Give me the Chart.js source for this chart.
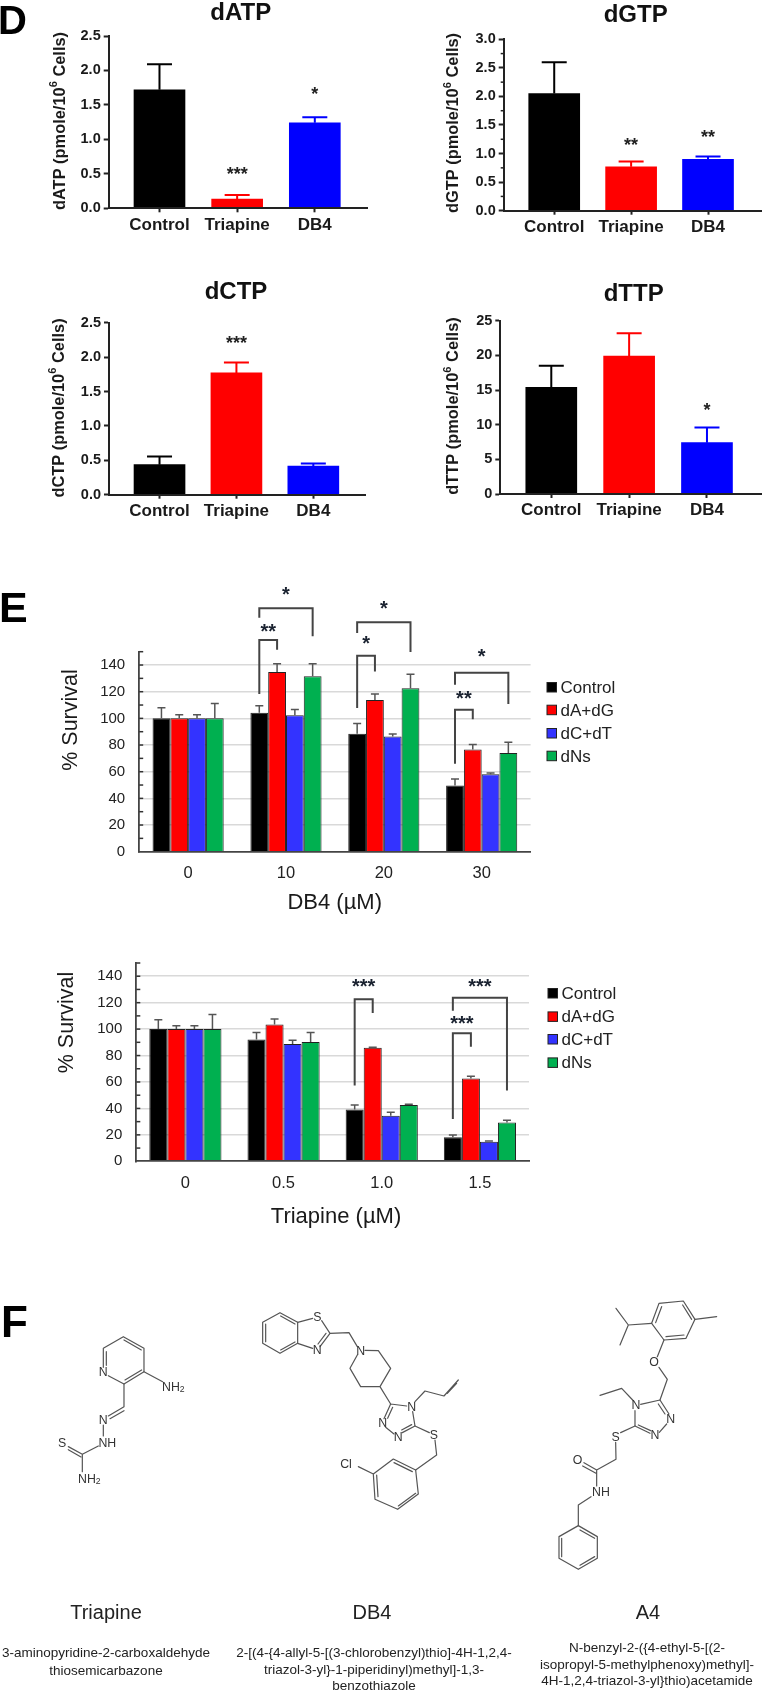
<!DOCTYPE html>
<html>
<head>
<meta charset="utf-8">
<title>dNTP pools and survival</title>
<script src="https://cdn.jsdelivr.net/npm/chart.js@4/dist/chart.umd.min.js"></script>
<style>
  html,body{margin:0;padding:0;background:#fff;}
  #page{position:relative;width:762px;height:1691px;overflow:hidden;filter:blur(0.35px);}
  canvas{position:absolute;}
  svg{position:absolute;left:0;top:0;}
  svg text{font-family:"Liberation Sans",Arial,sans-serif;fill:#222;}
  .bond{stroke:#555;stroke-width:3.6;fill:none;stroke-linecap:round;stroke-linejoin:round;}
  .atom{font-size:37px;text-anchor:middle;dominant-baseline:central;fill:#333;}
  .name{font-size:20px;text-anchor:middle;}
  .iupac{font-size:13.5px;text-anchor:middle;}
  .letter{font-size:40px;font-weight:bold;fill:#000;}
</style>
</head>
<body>
<div id="page">
  <canvas id="cATP"></canvas><canvas id="cGTP"></canvas><canvas id="cCTP"></canvas><canvas id="cTTP"></canvas>
  <canvas id="cDB4"></canvas><canvas id="cTri"></canvas>
  <svg width="762" height="1691" viewBox="0 0 762 1691">
    <text class="letter" x="-2" y="34">D</text>
    <text class="letter" style="font-size:43px" x="-1" y="622">E</text>
    <text class="letter" style="font-size:44px" x="1" y="1337">F</text>

    <!-- Triapine structure -->
    <g transform="translate(0,1290) scale(0.3333)">
      <path class="bond" d="M310 232L310 175L370 140L432 175L432 245L372 282L325 257M319 226L319 185M372 150L424 180M425 240L375 270"/>
      <path class="bond" d="M432 245L488 275M372 282L372 350L325 378M372 362L330 386M310 405L310 438M295 468L247 493L205 470M243 501L205 479M247 493L247 545"/>
      <text class="atom" x="310" y="247">N</text>
      <text class="atom" x="520" y="290">NH<tspan font-size="26" dy="8">2</tspan></text>
      <text class="atom" x="310" y="390">N</text>
      <text class="atom" x="322" y="458">NH</text>
      <text class="atom" x="186" y="458">S</text>
      <text class="atom" x="268" y="566">NH<tspan font-size="26" dy="8">2</tspan></text>
    </g>

    <!-- DB4 structure -->
    <g transform="translate(240,1290) scale(0.3333)">
      <path class="bond" d="M68 97L120 68L173 97L173 160L120 190L68 160ZM77 102L77 155M122 78L165 102M122 180L165 156"/>
      <path class="bond" d="M173 97L218 85M245 92L270 130L240 170M258 130L234 162M218 175L173 160M270 130L327 128L352 170"/>
      <path class="bond" d="M375 181L415 182L452 235L420 290L362 290L330 235L352 195M420 290L452 342"/>
      <path class="bond" d="M452 342L500 348M518 365L525 408L487 428M515 404L485 420M462 432L437 412M432 386L452 342M443 385L458 352"/>
      <path class="bond" d="M525 335L555 303L612 318L655 270M622 310L650 280M525 408L568 428M585 450L590 495L527 540"/>
      <path class="bond" d="M527 540L460 507L400 552L405 628L473 658L535 612ZM462 518L517 545M410 555L414 620M475 648L527 610M400 552L355 530"/>
      <text class="atom" x="232" y="80">S</text>
      <text class="atom" x="232" y="180">N</text>
      <text class="atom" x="362" y="183">N</text>
      <text class="atom" x="515" y="350">N</text>
      <text class="atom" x="428" y="400">N</text>
      <text class="atom" x="475" y="440">N</text>
      <text class="atom" x="582" y="435">S</text>
      <text class="atom" x="318" y="523">Cl</text>
    </g>

    <!-- A4 structure -->
    <g transform="translate(510,1290) scale(0.3333)">
      <path class="bond" d="M425 100L447 40L520 33L555 88L528 145L462 150ZM437 98L455 50M518 45L545 88M522 135L468 140"/>
      <path class="bond" d="M555 88L620 80M425 100L355 105L318 55M355 105L330 165M462 150L442 200M447 232L472 268L450 330"/>
      <path class="bond" d="M450 330L392 343M375 362L375 408L420 430M385 405L422 422M448 427L470 402M477 372L450 330M465 372L445 342"/>
      <path class="bond" d="M368 330L335 295L270 316M375 408L332 428M317 457L318 508L260 540L222 518M258 550L218 528M260 540L260 588M243 620L205 645L205 707"/>
      <path class="bond" d="M205 707L262 740L262 805L205 838L147 805L147 740ZM210 720L254 745M254 800L210 826M155 745L155 800"/>
      <text class="atom" x="432" y="215">O</text>
      <text class="atom" x="378" y="345">N</text>
      <text class="atom" x="482" y="388">N</text>
      <text class="atom" x="435" y="435">N</text>
      <text class="atom" x="317" y="440">S</text>
      <text class="atom" x="203" y="510">O</text>
      <text class="atom" x="273" y="607">NH</text>
    </g>

    <text class="name" x="106" y="1619">Triapine</text>
    <text class="name" x="372" y="1619">DB4</text>
    <text class="name" x="648" y="1619">A4</text>

    <text class="iupac" x="106" y="1657">3-aminopyridine-2-carboxaldehyde</text>
    <text class="iupac" x="106" y="1675">thiosemicarbazone</text>
    <text class="iupac" x="374" y="1657">2-[(4-{4-allyl-5-[(3-chlorobenzyl)thio]-4H-1,2,4-</text>
    <text class="iupac" x="374" y="1674">triazol-3-yl}-1-piperidinyl)methyl]-1,3-</text>
    <text class="iupac" x="374" y="1690">benzothiazole</text>
    <text class="iupac" x="647" y="1652">N-benzyl-2-({4-ethyl-5-[(2-</text>
    <text class="iupac" x="647" y="1669">isopropyl-5-methylphenoxy)methyl]-</text>
    <text class="iupac" x="647" y="1685">4H-1,2,4-triazol-3-yl}thio)acetamide</text>
  </svg>
</div>

<script>
// Panel D: dNTP pools
const treatments = ['Control','Triapine','DB4'];
const treatmentColors = ['#000000','#ff0000','#0000ff'];

const datpValues = [1.72,0.135,1.24];
const datpUpper = [2.09,0.193,1.32];
const datpStars = ['','***','*'];
const datpStarAt = [0,0.55,1.71];

const dgtpValues = [2.05,0.77,0.90];
const dgtpUpper = [2.60,0.86,0.95];
const dgtpStars = ['','**','**'];
const dgtpStarAt = [0,1.22,1.36];

const dctpValues = [0.436,1.77,0.417];
const dctpUpper = [0.557,1.92,0.455];
const dctpStars = ['','***',''];
const dctpStarAt = [0,2.26,0];

const dttpValues = [15.4,19.9,7.4];
const dttpUpper = [18.5,23.2,9.6];
const dttpStars = ['','','*'];
const dttpStarAt = [0,0,12.7];

// Panel E: survival
const supplements = ['Control','dA+dG','dC+dT','dNs'];
const supplementColors = ['#000000','#ff0000','#3333ff','#00b050'];

const db4Doses = ['0','10','20','30'];
const db4Control = [100,104.2,88.4,49.6];
const db4ControlUpper = [108,109.4,96.2,54.6];
const db4DaDg = [100,134.7,113.7,76.6];
const db4DaDgUpper = [102.7,141,118.2,80.4];
const db4DcDt = [100,102.4,86.4,58.1];
const db4DcDtUpper = [102.7,106.7,88.2,59.1];
const db4Dns = [100,131.5,122.5,74.1];
const db4DnsUpper = [111.2,141,133,82.1];
// dose index, left series, right series, top, left foot, right foot, stars, star height
const db4Brackets = [
  [1,0,1,158.8,118.2,151.5,'**',167.3],
  [1,0,3,182.6,175.5,161.5,'*',194.6],
  [2,0,1,147,107.7,135.2,'*',157.8],
  [2,0,3,172,164,149.8,'*',184],
  [3,0,1,106.4,65.9,99.4,'**',116.5],
  [3,0,3,134.2,125.2,110.7,'*',148]
];

const triDoses = ['0','0.5','1.0','1.5'];
const triControl = [100,92.2,39.1,18.2];
const triControlUpper = [107,97.5,42.5,19.9];
const triDaDg = [100,103.4,85.9,62.6];
const triDaDgUpper = [102.6,107.7,86.2,64.3];
const triDcDt = [100,88.8,34.5,14.8];
const triDcDtUpper = [102.6,91.5,37.1,15.3];
const triDns = [100,90.3,42.5,29.4];
const triDnsUpper = [111.1,97.5,43.2,31.1];
const triBrackets = [
  [2,0,1,122.5,57.3,112.1,'***',133.9],
  [3,0,1,96.8,32,86.6,'***',105.8],
  [3,0,3,123.8,113.8,53.6,'***',133.9]
];

Chart.defaults.font.family = '"Liberation Sans", Arial, sans-serif';
Chart.defaults.color = '#222';
Chart.defaults.animation = false;

// error bars, brackets, stars, hand placed labels and legend
const extras = {
  id: 'extras',
  afterDraw(chart){
    const o = chart.options.plugins.extras;
    const ctx = chart.ctx;
    const yScale = chart.scales.y;
    ctx.save();

    // inner minor ticks on the y axis
    (o.minorTicks || []).forEach(v => {
      const py = yScale.getPixelForValue(v);
      ctx.strokeStyle = o.axisColor;
      ctx.lineWidth = 1.5;
      ctx.beginPath();
      ctx.moveTo(yScale.right, py);
      ctx.lineTo(yScale.right + o.minorDir * o.minorLen, py);
      ctx.stroke();
    });

    // error bars
    chart.data.datasets.forEach((ds,d) => {
      const meta = chart.getDatasetMeta(d);
      meta.data.forEach((bar,i) => {
        const top = yScale.getPixelForValue(ds.upper[i]);
        ctx.strokeStyle = o.errColor || treatmentColors[i];
        ctx.lineWidth = o.errWidth;
        ctx.beginPath();
        ctx.moveTo(bar.x, bar.y);
        ctx.lineTo(bar.x, top);
        ctx.moveTo(bar.x - o.capHalf, top);
        ctx.lineTo(bar.x + o.capHalf, top);
        ctx.stroke();
      });
    });

    // significance stars over bars (panel D)
    ctx.textAlign = 'center';
    ctx.fillStyle = '#222';
    if(o.stars){
      ctx.font = 'bold 18px "Liberation Sans"';
      const meta = chart.getDatasetMeta(0);
      o.stars.forEach((s,i) => {
        if(s) ctx.fillText(s, meta.data[i].x, yScale.getPixelForValue(o.starAt[i]) + 10);
      });
    }

    // brackets (panel E)
    (o.brackets || []).forEach(b => {
      const x0 = chart.getDatasetMeta(b[1]).data[b[0]].x;
      const x1 = chart.getDatasetMeta(b[2]).data[b[0]].x;
      ctx.strokeStyle = '#444';
      ctx.lineWidth = 2;
      ctx.beginPath();
      ctx.moveTo(x0, yScale.getPixelForValue(b[4]));
      ctx.lineTo(x0, yScale.getPixelForValue(b[3]));
      ctx.lineTo(x1, yScale.getPixelForValue(b[3]));
      ctx.lineTo(x1, yScale.getPixelForValue(b[5]));
      ctx.stroke();
      ctx.font = 'bold 20px "Liberation Sans"';
      ctx.fillStyle = '#1a2230';
      ctx.fillText(b[6], (x0+x1)/2, yScale.getPixelForValue(b[7]) + 9);
    });

    // titles, given in page coordinates
    const box = o.box;
    (o.labels || []).forEach(t => {
      ctx.save();
      ctx.translate(t.x - box[0], t.y - box[1]);
      if(t.rot) ctx.rotate(t.rot);
      ctx.font = t.font;
      ctx.fillStyle = t.color || '#1a1a1a';
      ctx.textBaseline = 'middle';
      if(t.parts){
        // text, raised small 6, text
        const supFont = t.font.replace(t.size + 'px', (t.size * 0.68) + 'px');
        const w0 = ctx.measureText(t.parts[0]).width;
        const w2 = ctx.measureText(t.parts[2]).width;
        ctx.font = supFont;
        const w1 = ctx.measureText(t.parts[1]).width;
        let x = -(w0 + w1 + w2) / 2;
        ctx.textAlign = 'left';
        ctx.font = t.font;
        ctx.fillText(t.parts[0], x, 0);
        x += w0;
        ctx.font = supFont;
        ctx.fillText(t.parts[1], x, -t.size * 0.36);
        x += w1;
        ctx.font = t.font;
        ctx.fillText(t.parts[2], x, 0);
      } else {
        ctx.textAlign = 'center';
        ctx.fillText(t.text, 0, 0);
      }
      ctx.restore();
    });

    // legend
    if(o.legend){
      const l = o.legend;
      supplements.forEach((name,i) => {
        const cy = l.rows[i] - box[1];
        ctx.fillStyle = supplementColors[i];
        ctx.strokeStyle = '#222';
        ctx.lineWidth = 1;
        ctx.fillRect(l.x - box[0], cy - 4.8, 9.5, 9.5);
        ctx.strokeRect(l.x - box[0], cy - 4.8, 9.5, 9.5);
        ctx.fillStyle = '#222';
        ctx.font = '17px "Liberation Sans"';
        ctx.textAlign = 'left';
        ctx.textBaseline = 'middle';
        ctx.fillText(name, l.x - box[0] + 13.5, cy + 1);
      });
    }
    ctx.restore();
  }
};
Chart.register(extras);

function place(id, box){
  const c = document.getElementById(id);
  c.width = box[2];
  c.height = box[3];
  c.style.left = box[0] + 'px';
  c.style.top = box[1] + 'px';
  return c;
}

// one panel D chart. area = plot rectangle in page coordinates
function poolChart(id, cfg){
  const box = cfg.box, area = cfg.area;
  const canvas = place(id, box);
  return new Chart(canvas, {
    type: 'bar',
    data: {
      datasets: [{
        data: cfg.values.map((v,i) => ({x:i, y:v})),
        upper: cfg.upper,
        backgroundColor: treatmentColors,
        barThickness: 51
      }]
    },
    options: {
      responsive: false,
      devicePixelRatio: 1,
      layout: {
        autoPadding: false,
        padding: {left:0, top:area[1]-box[1], right:box[0]+box[2]-area[2], bottom:0}
      },
      plugins: {
        legend: {display:false},
        tooltip: {enabled:false},
        extras: {
          box,
          stars: cfg.stars,
          starAt: cfg.starAt,
          errWidth: 2,
          capHalf: 12.5,
          axisColor: '#222',
          minorTicks: cfg.minor,
          minorDir: -1,
          minorLen: 3,
          labels: [
            {text:cfg.title, x:cfg.titleAt[0], y:cfg.titleAt[1], font:'bold 24px "Liberation Sans"', color:'#111'},
            {parts:[cfg.title + ' (pmole/10','6',' Cells)'], size:16.4, x:cfg.yTitleAt[0], y:cfg.yTitleAt[1], rot:-Math.PI/2, font:'bold 16.4px "Liberation Sans"'}
          ]
        }
      },
      scales: {
        x: {
          type: 'linear',
          offset: false,
          min: cfg.xRange[0],
          max: cfg.xRange[1],
          afterBuildTicks: s => { s.ticks = treatments.map((_,i) => ({value:i})); },
          afterFit: s => { s.height = box[1]+box[3]-area[3]; },
          border: {color:'#222', width:2, z:1},
          grid: {offset:false, drawOnChartArea:false, drawTicks:true, tickLength:4, tickColor:'#222', tickWidth:2},
          ticks: {
            autoSkip:false, maxRotation:0, padding:2.5,
            font:{size:17, weight:'bold'}, color:'#1a1a1a',
            callback: v => treatments[v]
          }
        },
        y: {
          min: 0,
          max: cfg.yMax,
          afterFit: s => { s.width = area[0]-box[0]; },
          border: {color:'#222', width:2, z:1},
          grid: {drawOnChartArea:false, drawTicks:true, tickLength:5, tickColor:'#222', tickWidth:2},
          ticks: {
            stepSize: cfg.yStep, padding:3,
            font:{size:14.5, weight:'bold'}, color:'#1a1a1a',
            callback: v => cfg.yStep < 1 ? v.toFixed(1) : v
          }
        }
      }
    }
  });
}

poolChart('cATP', {
  box:[0,0,381,250], area:[108.7,36,367,208.3], xRange:[-0.654,2.672], yMax:2.5, yStep:0.5,
  values:datpValues, upper:datpUpper, stars:datpStars, starAt:datpStarAt,
  title:'dATP', titleAt:[240.7,13.5], yTitleAt:[60,121]
});
poolChart('cGTP', {
  box:[381,0,381,250], area:[503.7,39.3,761,210.7], xRange:[-0.657,2.689], yMax:3, yStep:0.5,
  values:dgtpValues, upper:dgtpUpper, stars:dgtpStars, starAt:dgtpStarAt,
  minor:[0.25,0.75,1.25,1.75,2.25,2.75],
  title:'dGTP', titleAt:[635.7,15], yTitleAt:[453.7,123]
});
poolChart('cCTP', {
  box:[0,260,381,270], area:[109,322.7,365.7,494.7], xRange:[-0.657,2.681], yMax:2.5, yStep:0.5,
  values:dctpValues, upper:dctpUpper, stars:dctpStars, starAt:dctpStarAt,
  title:'dCTP', titleAt:[236,292.5], yTitleAt:[59,408]
});
poolChart('cTTP', {
  box:[381,260,381,270], area:[500.3,320.7,761,494], xRange:[-0.655,2.694], yMax:25, yStep:5,
  values:dttpValues, upper:dttpUpper, stars:dttpStars, starAt:dttpStarAt,
  title:'dTTP', titleAt:[633.7,294.5], yTitleAt:[453.7,406]
});

// one panel E chart
function survivalChart(id, cfg){
  const box = cfg.box, area = cfg.area;
  const canvas = place(id, box);
  const minorValues = [];
  for(let v=10; v<=150; v+=10) minorValues.push(v);
  return new Chart(canvas, {
    type: 'bar',
    data: {
      labels: cfg.doses,
      datasets: cfg.series.map((s,i) => ({
        label: supplements[i],
        data: s.values,
        upper: s.upper,
        backgroundColor: supplementColors[i],
        borderColor: '#222',
        borderWidth: 1,
        categoryPercentage: cfg.groupShare,
        barPercentage: 1
      }))
    },
    options: {
      responsive: false,
      devicePixelRatio: 1,
      layout: {
        autoPadding: false,
        padding: {left:0, top:area[1]-box[1], right:box[0]+box[2]-area[2], bottom:0}
      },
      plugins: {
        legend: {display:false},
        tooltip: {enabled:false},
        extras: {
          box,
          brackets: cfg.brackets,
          errColor: '#555',
          errWidth: 1.5,
          capHalf: 4,
          axisColor: '#333',
          minorTicks: minorValues,
          minorDir: 1,
          minorLen: 4,
          legend: cfg.legend,
          labels: [
            {text:'% Survival', x:cfg.yTitleAt[0], y:cfg.yTitleAt[1], rot:-Math.PI/2, font:'21.5px "Liberation Sans"'},
            {text:cfg.xTitle, x:cfg.xTitleAt[0], y:cfg.xTitleAt[1], font:'22px "Liberation Sans"'}
          ]
        }
      },
      scales: {
        x: {
          afterFit: s => { s.height = box[1]+box[3]-area[3]; },
          border: {color:'#444', width:1.8, z:1},
          grid: {display:false},
          ticks: {autoSkip:false, maxRotation:0, padding:4, font:{size:16.5}, color:'#222'}
        },
        y: {
          min: 0,
          max: 150,
          afterFit: s => { s.width = area[0]-box[0]; },
          border: {color:'#444', width:1.8, z:1},
          grid: {
            drawTicks:false,
            lineWidth:1.5,
            color: c => (c.tick.value % 20 === 0 && c.tick.value > 0 && c.tick.value < 150) ? '#d9d9d9' : 'rgba(0,0,0,0)'
          },
          ticks: {
            stepSize:10, autoSkip:false, padding:14,
            font:{size:15}, color:'#222',
            callback: v => (v % 20 === 0 && v < 150) ? v : ''
          }
        }
      }
    }
  });
}

survivalChart('cDB4', {
  box:[0,580,762,345], area:[139.2,651.7,530.6,851.7], groupShare:0.727,
  doses:db4Doses, brackets:db4Brackets,
  series:[
    {values:db4Control, upper:db4ControlUpper},
    {values:db4DaDg, upper:db4DaDgUpper},
    {values:db4DcDt, upper:db4DcDtUpper},
    {values:db4Dns, upper:db4DnsUpper}
  ],
  legend:{x:547, rows:[687.3,710,733.3,756]},
  xTitle:'DB4 (µM)', xTitleAt:[334.7,903], yTitleAt:[71.4,720]
});
survivalChart('cTri', {
  box:[0,940,762,300], area:[136.3,955.7,529,1161.3], groupShare:0.735,
  doses:triDoses, brackets:triBrackets,
  series:[
    {values:triControl, upper:triControlUpper},
    {values:triDaDg, upper:triDaDgUpper},
    {values:triDcDt, upper:triDcDtUpper},
    {values:triDns, upper:triDnsUpper}
  ],
  legend:{x:548, rows:[993.3,1016.7,1039.3,1062.7]},
  xTitle:'Triapine (µM)', xTitleAt:[336,1217], yTitleAt:[67.3,1022.5]
});
</script>
</body>
</html>
